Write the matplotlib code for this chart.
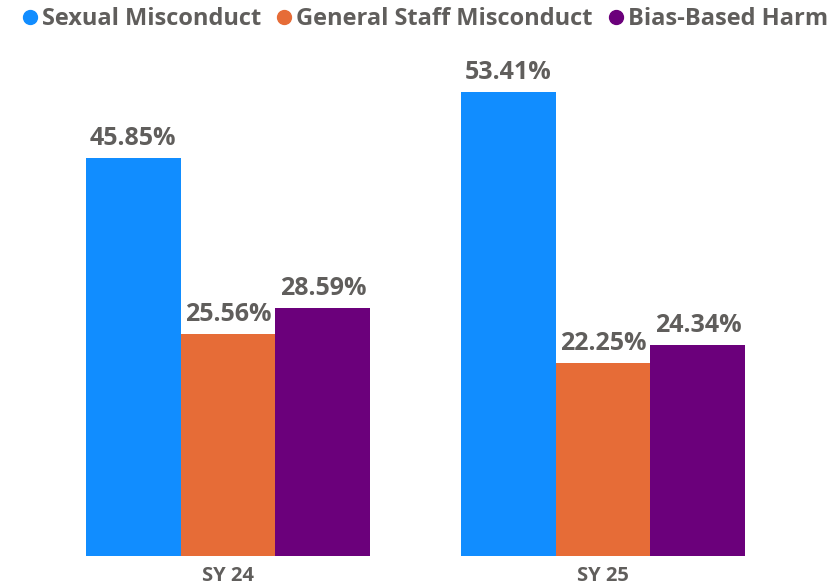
import numpy as np
import matplotlib.pyplot as plt
from matplotlib.lines import Line2D

plt.rcParams['font.family'] = ['Open Sans', 'DejaVu Sans']

years = ["SY 24", "SY 25"]
series = ["Sexual Misconduct", "General Staff Misconduct", "Bias-Based Harm"]
sexual = [45.85, 53.41]
general = [25.56, 22.25]
bias = [28.59, 24.34]
colors = ["#118DFF", "#E66C37", "#6B007B"]
text_color = "#605E5C"

fig = plt.figure(figsize=(8.34, 5.88), dpi=100)
ax = fig.add_axes([40.5 / 834, 32 / 588, 750 / 834, 506 / 588])

x = np.arange(len(years))
w = 0.2533
for i, (vals, c) in enumerate(zip([sexual, general, bias], colors)):
    bars = ax.bar(x + (i - 1) * w, vals, w, color=c, label=series[i])
    for b, v in zip(bars, vals):
        ax.text(b.get_x() + b.get_width() / 2, v + 0.8, f"{v:.2f}%",
                ha='center', va='bottom', fontsize=18, fontweight='bold',
                color=text_color)

ax.set_xlim(-0.5, 1.5)
ax.set_ylim(0, 58.3)
ax.set_xticks(x)
ax.set_xticklabels(years, fontsize=14.5, fontweight='bold', color=text_color)
ax.tick_params(axis='x', length=0, pad=7)
ax.set_yticks([])
for s in ax.spines.values():
    s.set_visible(False)

handles = [Line2D([], [], marker='o', linestyle='', color=c, markersize=10) for c in colors]
leg = fig.legend(handles, series, loc='upper left', bbox_to_anchor=(-0.004, 1.024), ncol=3,
                 frameon=False, handletextpad=0.0, columnspacing=0.5, handlelength=1.0,
                 prop={'size': 17, 'weight': 'bold'})
for t in leg.get_texts():
    t.set_color(text_color)

fig.savefig("out.png", dpi=100)
